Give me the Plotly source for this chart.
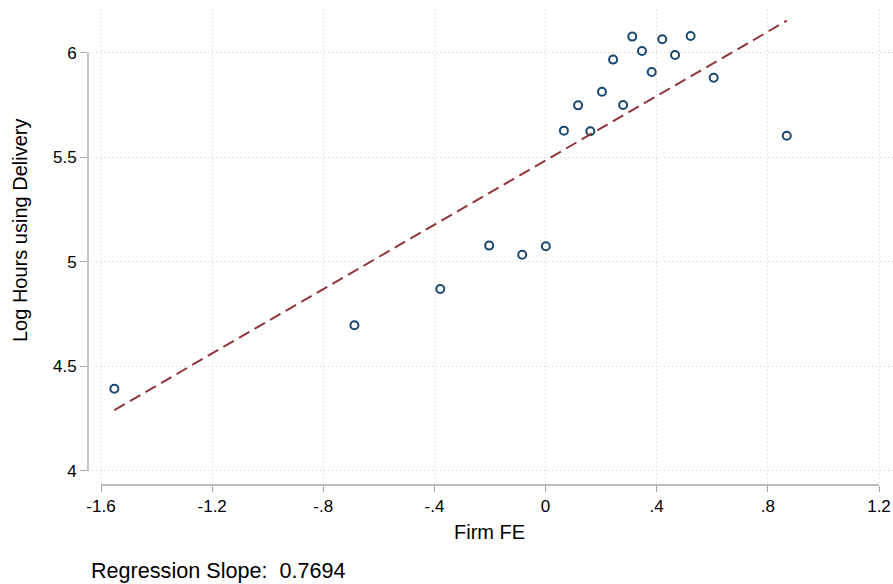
import plotly.graph_objects as go

# Binned scatter points
firm_fe = [-1.552, -0.688, -0.379, -0.203, -0.084, 0.001, 0.066, 0.117, 0.161, 0.203,
           0.243, 0.279, 0.312, 0.347, 0.382, 0.420, 0.466, 0.522, 0.605, 0.868]
log_hours = [4.392, 4.696, 4.869, 5.077, 5.033, 5.074, 5.627, 5.748, 5.624, 5.813,
             5.967, 5.750, 6.077, 6.008, 5.908, 6.064, 5.989, 6.080, 5.880, 5.603]

# Fitted line endpoints
fit_x = [-1.552, 0.868]
fit_y = [4.290, 6.153]
slope_text = "Regression Slope:\u00a0 0.7694"

x_tickvals = [-1.6, -1.2, -0.8, -0.4, 0, 0.4, 0.8, 1.2]
x_ticktext = ["-1.6", "-1.2", "-.8", "-.4", "0", ".4", ".8", "1.2"]
y_tickvals = [4, 4.5, 5, 5.5, 6]
y_ticktext = ["4", "4.5", "5", "5.5", "6"]

X_RANGE = [-1.6468, 1.2504]
Y_RANGE = [3.9316, 6.2043]

FONT = "Liberation Sans, Arial, sans-serif"
AXIS_COLOR = "#a6a6a6"
GRID_COLOR = "#d0d0d0"

fig = go.Figure()
fig.add_trace(go.Scatter(
    x=firm_fe, y=log_hours, mode="markers",
    marker=dict(symbol="circle-open", size=8, color="#1a476f",
                line=dict(width=2, color="#1a476f")),
    showlegend=False,
))
fig.add_trace(go.Scatter(
    x=fit_x, y=fit_y, mode="lines",
    line=dict(color="#90353b", width=2, dash="12px,6px"),
    showlegend=False,
))

def xp(v):
    return (v - X_RANGE[0]) / (X_RANGE[1] - X_RANGE[0])

def yp(v):
    return (v - Y_RANGE[0]) / (Y_RANGE[1] - Y_RANGE[0])

shapes = [
    dict(type="line", xref="paper", yref="paper",
         x0=xp(x_tickvals[0]), x1=xp(x_tickvals[-1]), y0=0, y1=0,
         line=dict(color=AXIS_COLOR, width=1.3)),
    dict(type="line", xref="paper", yref="paper",
         x0=0, x1=0, y0=yp(y_tickvals[0]), y1=yp(y_tickvals[-1]),
         line=dict(color=AXIS_COLOR, width=1.3)),
]

fig.update_layout(
    width=893, height=584,
    margin=dict(l=88, r=0, t=10, b=99),
    plot_bgcolor="white", paper_bgcolor="white",
    font=dict(family=FONT, color="#000000"),
    shapes=shapes,
    xaxis=dict(range=X_RANGE, tickvals=x_tickvals, ticktext=x_ticktext,
               showline=False, zeroline=False, ticks="outside", ticklen=6,
               tickcolor=AXIS_COLOR, tickwidth=1.3,
               showgrid=True, gridcolor=GRID_COLOR, gridwidth=1, griddash="1px,3px",
               tickfont=dict(size=17, family=FONT, color="#000")),
    yaxis=dict(range=Y_RANGE, tickvals=y_tickvals, ticktext=y_ticktext,
               showline=False, zeroline=False, ticks="outside", ticklen=7,
               tickcolor=AXIS_COLOR, tickwidth=1.3,
               showgrid=True, gridcolor=GRID_COLOR, gridwidth=1, griddash="1px,3px",
               tickfont=dict(size=17, family=FONT, color="#000")),
    annotations=[
        dict(text="Firm FE", xref="paper", yref="paper", x=xp(-0.2), y=-0.099,
             xanchor="center", yanchor="middle", showarrow=False,
             font=dict(size=20, family=FONT, color="#000")),
        dict(text="Log Hours using Delivery", xref="paper", yref="paper",
             x=-68 / 805, y=(485 - 231) / 475, textangle=-90,
             xanchor="center", yanchor="middle", showarrow=False,
             font=dict(size=20, family=FONT, color="#000")),
        dict(text=slope_text, xref="paper", yref="paper", x=1 / 805, y=-0.181,
             xanchor="left", yanchor="middle", showarrow=False,
             font=dict(size=21.6, family=FONT, color="#000")),
    ],
)

fig.write_html("out.html")
